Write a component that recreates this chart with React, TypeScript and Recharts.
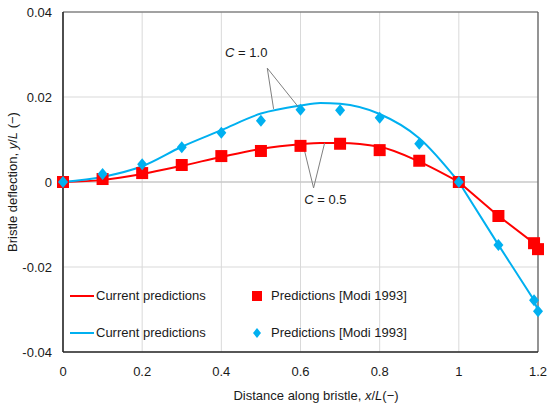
import React from "react";
import {
  ComposedChart,
  Line,
  Scatter,
  XAxis,
  YAxis,
  CartesianGrid,
  ReferenceLine,
  ReferenceDot,
} from "recharts";

// curves (current predictions)
const curveX = [0, 0.1, 0.2, 0.3, 0.4, 0.5, 0.6, 0.65, 0.7, 0.8, 0.9, 1.0, 1.1, 1.19, 1.2];
const redCurveY = [0, 0.0005, 0.0019, 0.0038, 0.0059, 0.0078, 0.0089, 0.0092, 0.0092, 0.0083, 0.0048, 0, -0.008, -0.0144, -0.0158];
const blueCurveY = [0, 0.0012, 0.0037, 0.0083, 0.0122, 0.0161, 0.018, 0.0186, 0.0184, 0.016, 0.0103, 0, -0.0148, -0.0278, -0.0304];

// markers (Modi 1993)
const ptsX = [0, 0.1, 0.2, 0.3, 0.4, 0.5, 0.6, 0.7, 0.8, 0.9, 1.0, 1.1, 1.19, 1.2];
const redPtsY = [0, 0.0007, 0.0021, 0.004, 0.0061, 0.0073, 0.0085, 0.009, 0.0075, 0.005, 0, -0.008, -0.0144, -0.0158];
const bluePtsY = [0, 0.0019, 0.0042, 0.0082, 0.0116, 0.0144, 0.017, 0.0169, 0.0151, 0.009, 0, -0.0148, -0.0278, -0.0304];

const xTicks = [0, 0.2, 0.4, 0.6, 0.8, 1, 1.2];
const yTicks = [-0.04, -0.02, 0, 0.02, 0.04];

const RED = "#ff0000";
const BLUE = "#00b0f0";
const FONT = "'Liberation Sans', Arial, sans-serif";
const INK = "#1a1a1a";

const zip = (xs: number[], ys: number[]) => xs.map((x, i) => ({ x, y: ys[i] }));
const redCurve = zip(curveX, redCurveY);
const blueCurve = zip(curveX, blueCurveY);
const redPts = zip(ptsX, redPtsY);
const bluePts = zip(ptsX, bluePtsY);

// smooth part up to x = 1, straight segments after it
const split = curveX.indexOf(1.0);
const head = (d: { x: number; y: number }[]) => d.slice(0, split + 1);
const tail = (d: { x: number; y: number }[]) => d.slice(split);

const Square = (p: any) => <rect x={p.cx - 6} y={p.cy - 6} width={12} height={12} fill={RED} />;
const Diamond = (p: any) => (
  <polygon
    points={`${p.cx},${p.cy - 6} ${p.cx + 5},${p.cy} ${p.cx},${p.cy + 6} ${p.cx - 5},${p.cy}`}
    fill={BLUE}
  />
);

const annText = (val: string) => (p: any) => (
  <text x={p.cx} y={p.cy} dy="0.35em" textAnchor="middle" fontFamily={FONT} fontSize={13} fill={INK}>
    <tspan fontStyle="italic">C</tspan> = {val}
  </text>
);

const XLabel = () => (
  <text x={316} y={395} dy="0.35em" textAnchor="middle" fontFamily={FONT} fontSize={13} fill={INK}>
    Distance along bristle, <tspan fontStyle="italic">x</tspan>/<tspan fontStyle="italic">L</tspan>(−)
  </text>
);

const YLabel = () => (
  <text
    x={12}
    y={182}
    dy="0.35em"
    textAnchor="middle"
    transform="rotate(-90 12 182)"
    fontFamily={FONT}
    fontSize={13}
    fill={INK}
  >
    Bristle deflection, <tspan fontStyle="italic">y</tspan>/<tspan fontStyle="italic">L</tspan> (−)
  </text>
);

const fmt = (v: number) => (v === 0 ? "0" : String(Number(v.toFixed(2))));

const LegendRow = ({ color, marker, top }: { color: string; marker: "sq" | "di"; top: number }) => (
  <div
    style={{
      position: "absolute",
      left: 0,
      top,
      height: 16,
      width: 340,
      fontFamily: FONT,
      fontSize: 13,
      color: INK,
      whiteSpace: "nowrap",
    }}
  >
    <div style={{ position: "absolute", left: 4, top: 7, width: 24, height: 2, background: color }} />
    <span style={{ position: "absolute", left: 30, top: 0, lineHeight: "16px" }}>Current predictions</span>
    <svg style={{ position: "absolute", left: 185, top: 2 }} width={12} height={12}>
      {marker === "sq" ? (
        <rect x={1} y={1} width={10} height={10} fill={color} />
      ) : (
        <polygon points="6,1 10,6 6,11 2,6" fill={color} />
      )}
    </svg>
    <span style={{ position: "absolute", left: 205, top: 0, lineHeight: "16px" }}>Predictions [Modi 1993]</span>
  </div>
);

export default function App() {
  return (
    <div style={{ position: "absolute", left: 0, top: 0, width: 550, height: 406, background: "#fff" }}>
      <ComposedChart width={550} height={406} margin={{ top: 12, right: 12, bottom: 0, left: 0 }}>
        <CartesianGrid stroke="#d9d9d9" strokeWidth={1} />
        <XAxis
          dataKey="x"
          type="number"
          domain={[0, 1.2]}
          ticks={xTicks}
          tickFormatter={fmt}
          tickLine={false}
          axisLine={false}
          tickMargin={9}
          height={54}
          tick={{ fontFamily: FONT, fontSize: 13, fill: INK }}
          label={<XLabel />}
        />
        <YAxis
          dataKey="y"
          type="number"
          domain={[-0.04, 0.04]}
          ticks={yTicks}
          tickFormatter={fmt}
          tickLine={false}
          axisLine={false}
          tickMargin={5}
          width={63}
          tick={{ fontFamily: FONT, fontSize: 13, fill: INK }}
          label={<YLabel />}
        />
        <ReferenceLine y={0} stroke="#bfbfbf" strokeWidth={1.2} />
        <ReferenceLine y={0.04} stroke="#595959" strokeWidth={1.2} />
        <ReferenceLine x={1.2} stroke="#595959" strokeWidth={1.2} />
        <ReferenceLine y={-0.04} stroke="#262626" strokeWidth={1.6} />
        <ReferenceLine x={0} stroke="#262626" strokeWidth={1.6} />

        <Line data={head(redCurve)} dataKey="y" type="monotone" stroke={RED} strokeWidth={2} dot={false} isAnimationActive={false} />
        <Line data={tail(redCurve)} dataKey="y" type="linear" stroke={RED} strokeWidth={2} dot={false} isAnimationActive={false} />
        <Line data={head(blueCurve)} dataKey="y" type="monotone" stroke={BLUE} strokeWidth={2} dot={false} isAnimationActive={false} />
        <Line data={tail(blueCurve)} dataKey="y" type="linear" stroke={BLUE} strokeWidth={2} dot={false} isAnimationActive={false} />
        <Scatter data={redPts} dataKey="y" shape={Square} isAnimationActive={false} />
        <Scatter data={bluePts} dataKey="y" shape={Diamond} isAnimationActive={false} />

        {/* annotations */}
        <ReferenceLine segment={[{ x: 0.516, y: 0.0268 }, { x: 0.532, y: 0.0172 }]} stroke="#7f7f7f" />
        <ReferenceLine segment={[{ x: 0.516, y: 0.0268 }, { x: 0.595, y: 0.0176 }]} stroke="#7f7f7f" />
        <ReferenceLine segment={[{ x: 0.633, y: -0.0014 }, { x: 0.608, y: 0.0082 }]} stroke="#7f7f7f" />
        <ReferenceLine segment={[{ x: 0.633, y: -0.0014 }, { x: 0.661, y: 0.0092 }]} stroke="#7f7f7f" />
        <ReferenceDot x={0.463} y={0.0306} r={0} shape={annText("1.0")} />
        <ReferenceDot x={0.663} y={-0.004} r={0} shape={annText("0.5")} />
      </ComposedChart>
      <div style={{ position: "absolute", left: 66, top: 288, width: 340, height: 60 }}>
        <LegendRow color={RED} marker="sq" top={0} />
        <LegendRow color={BLUE} marker="di" top={37} />
      </div>
    </div>
  );
}
